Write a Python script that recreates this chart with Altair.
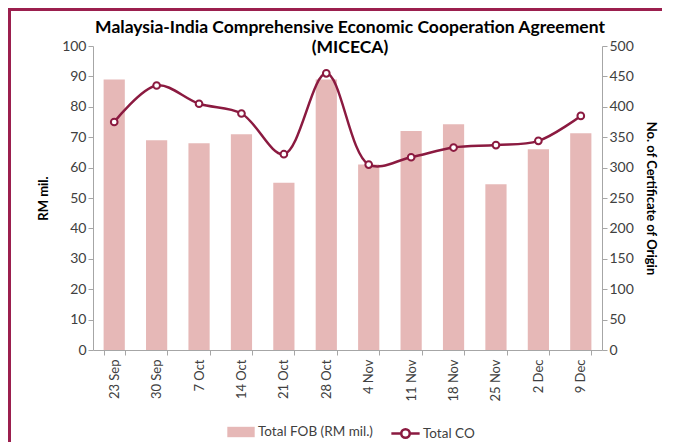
import altair as alt
import pandas as pd

weeks = ["23 Sep", "30 Sep", "7 Oct", "14 Oct", "21 Oct", "28 Oct",
         "4 Nov", "11 Nov", "18 Nov", "25 Nov", "2 Dec", "9 Dec"]
fob = [89, 69, 68, 71, 55, 89, 61, 72, 74.3, 54.5, 66, 71.3]
co = [375, 435, 405, 389, 322, 455, 305, 317, 333, 337, 344, 385]
title_lines = ["Malaysia-India Comprehensive Economic Cooperation Agreement", "(MICECA)"]

df = pd.DataFrame({"week": weeks, "fob": fob, "co": co,
                   "s1": "Total FOB (RM mil.)", "s2": "Total CO"})
one = pd.DataFrame({"k": [0]})

FONT = "Lato"
LINE = "#8B1A40"
BAR = "#E6B8B7"
AXIS = "#A6A6A6"
TXT = "#404040"

x = alt.X("week:N", sort=weeks, title=None,
          scale=alt.Scale(paddingInner=0.5, paddingOuter=0.25),
          axis=alt.Axis(labelAngle=-90, labelFontSize=13, labelColor=TXT,
                        labelFont=FONT, domainColor=AXIS, tickColor=AXIS,
                        tickBand="extent", tickSize=5, labelPadding=4,
                        grid=False))

bars = alt.Chart(df).mark_bar(color=BAR).encode(
    x=x,
    y=alt.Y("fob:Q", title="RM mil.",
            scale=alt.Scale(domain=[0, 100]),
            axis=alt.Axis(values=list(range(0, 101, 10)), grid=False,
                          labelFontSize=14, labelColor=TXT, labelFont=FONT,
                          titleFont=FONT, titleFontSize=13, titleColor="#000",
                          titleFontWeight="bold", titlePadding=11,
                          domainColor=AXIS, tickColor=AXIS, tickSize=5)),
    color=alt.Color("s1:N", scale=alt.Scale(domain=["Total FOB (RM mil.)"], range=[BAR]),
                    legend=alt.Legend(title=None, orient="none", legendX=134, legendY=372,
                                      symbolType="M-1,-0.38 H1 V0.38 H-1 Z", symbolSize=750,
                                      labelFont=FONT, labelFontSize=13.5, labelColor=TXT,
                                      symbolStrokeWidth=0, labelOffset=3)),
)

line = alt.Chart(df).mark_line(
    color=LINE, strokeWidth=2.5, interpolate="catmull-rom",
    point=alt.OverlayMarkDef(filled=True, fill="white", stroke=LINE, strokeWidth=2,
                             size=45, opacity=1),
).encode(
    x=x,
    y=alt.Y("co:Q", title="No. of Certificate of Origin",
            scale=alt.Scale(domain=[0, 500]),
            axis=alt.Axis(orient="right", values=list(range(0, 501, 50)), grid=False,
                          labelFontSize=14, labelColor=TXT, labelFont=FONT,
                          titleFont=FONT, titleFontSize=13, titleColor="#000",
                          titleFontWeight="bold", titlePadding=10,
                          domainColor=AXIS, tickColor=AXIS, tickSize=5)),
    stroke=alt.Stroke("s2:N", scale=alt.Scale(domain=["Total CO"], range=[LINE]),
                      legend=alt.Legend(title=None, orient="none", legendX=297, legendY=372,
                                        symbolType="M-1,0 H-0.3 M0.3,0 H1 M-0.3,0 A0.3,0.3 0 1,0 0.3,0 A0.3,0.3 0 1,0 -0.3,0",
                                        symbolSize=800, symbolStrokeWidth=2.5,
                                        symbolFillColor="white",
                                        labelFont=FONT, labelFontSize=13.5, labelColor=TXT,
                                        labelOffset=2)),
)

title = alt.Chart(one).mark_text(
    text=title_lines, font=FONT, fontSize=17.5, fontWeight="bold", color="#000",
    align="center", baseline="middle", lineHeight=20,
).encode(x=alt.value(257), y=alt.value(-18))

border_left = alt.Chart(one).mark_rule(color="#9B1F4E", strokeWidth=3).encode(
    x=alt.value(-83.5), y=alt.value(-38), y2=alt.value(400))
border_top = alt.Chart(one).mark_rule(color="#9B1F4E", strokeWidth=3).encode(
    x=alt.value(-85), x2=alt.value(600), y=alt.value(-36.5))

chart = alt.layer(bars, line, title, border_left, border_top).resolve_scale(
    y="independent", color="independent", stroke="independent"
).properties(
    width=509, height=304,
    autosize=alt.AutoSizeParams(type="none"),
    padding={"left": 85, "top": 38, "right": 60, "bottom": 92},
).configure_view(stroke=None)

chart.save("out.html", embed_options={"renderer": "svg", "actions": False})
